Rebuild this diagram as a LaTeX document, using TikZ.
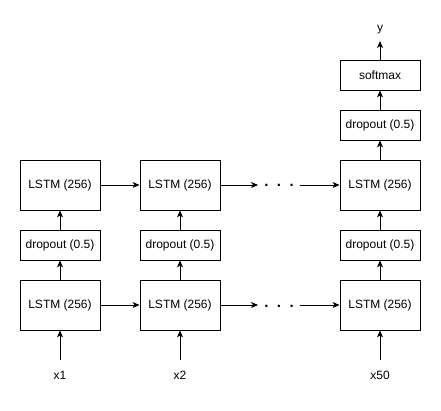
\documentclass[tikz,border=0pt]{standalone}
\usepackage{fontspec}
\setmainfont{Liberation Sans}
\usetikzlibrary{arrows.meta}
\begin{document}
\begin{tikzpicture}[x=1pt,y=-1pt,
  box/.style={draw,line width=0.9pt,minimum width=80pt,inner sep=0pt,font=\fontsize{12}{14}\selectfont},
  lstm/.style={box,minimum height=50pt},
  drop/.style={box,minimum height=30pt},
  lbl/.style={inner sep=1pt,font=\fontsize{12}{14}\selectfont},
  dotlbl/.style={inner sep=0pt,font=\fontsize{15}{16}\selectfont\bfseries},
  arr/.style={line width=0.9pt,-{Stealth[length=7pt,width=6pt,inset=2pt]}}]
\useasboundingbox (0,0) rectangle (441,411);
% columns at x=60,180,380
\foreach \c/\x/\lab in {a/60/x1,b/180/x2,c/380/x50}{
  \node[lstm] (\c L1) at (\x,305) {LSTM (256)};
  \node[drop] (\c D) at (\x,245) {dropout (0.5)};
  \node[lstm] (\c L2) at (\x,185) {LSTM (256)};
  \node[lbl] (\c x) at (\x,375) {\lab};
  \coordinate (\c in) at (\x,360);
  \draw[arr] (\c in) -- (\c L1.south);
  \draw[arr] (\c L1.north) -- (\c D.south);
  \draw[arr] (\c D.north) -- (\c L2.south);
}
\node[drop] (cD2) at (380,125) {dropout (0.5)};
\node[drop] (sm) at (380,75) {softmax};
\node[lbl] (y) at (380,30) {y};
\coordinate (yend) at (380,41);
\draw[arr] (cL2.north) -- (cD2.south);
\draw[arr] (cD2.north) -- (sm.south);
\draw[arr] (sm.north) -- (yend);
\draw[arr] (aL1.east) -- (bL1.west);
\draw[arr] (aL2.east) -- (bL2.west);
\foreach \r/\y in {1/305,2/185}{
  \node[dotlbl,anchor=base] (dots\r) at (279,\y+2) {.\hspace{8.5pt}.\hspace{8.5pt}.};
  \coordinate (dl\r) at (258,\y);
  \coordinate (dr\r) at (300,\y);
  \draw[arr] (bL\r.east) -- (dl\r);
  \draw[arr] (dr\r) -- (cL\r.west);
}
\end{tikzpicture}
\end{document}
